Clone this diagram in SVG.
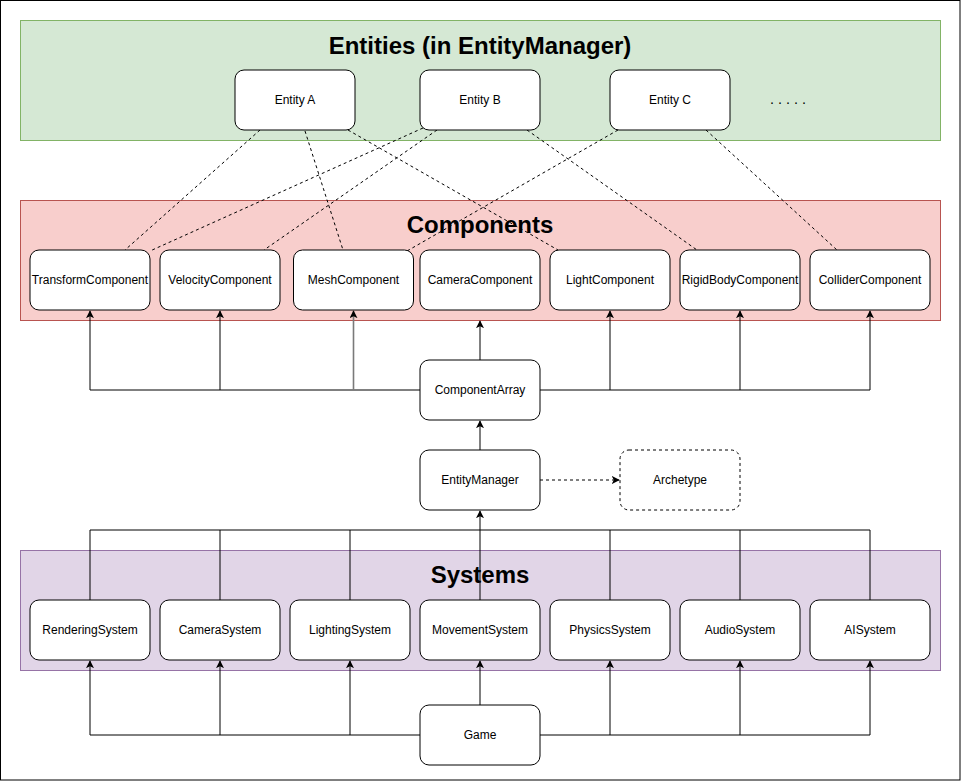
<svg xmlns="http://www.w3.org/2000/svg" width="961" height="781" viewBox="0 0 961 781">
<defs>
<marker id="arr" viewBox="0 0 10 10" refX="9" refY="5" markerWidth="8" markerHeight="8" markerUnits="userSpaceOnUse" orient="auto">
<path d="M0,0 L10,5 L0,10 L2.5,5 Z" fill="#000"/>
</marker>
<style>
.box{fill:#fff;stroke:#000;stroke-width:1}
.dbox{fill:#fff;stroke:#000;stroke-width:1;stroke-dasharray:3 3}
.lbl{font-family:"Liberation Sans",Arial,sans-serif;font-size:12px;fill:#000;text-anchor:middle;dominant-baseline:central}
.title{font-family:"Liberation Sans",Arial,sans-serif;font-size:24px;font-weight:bold;fill:#000;text-anchor:middle;dominant-baseline:central}
.ln{fill:none;stroke:#000;stroke-width:1}
.dash{fill:none;stroke:#000;stroke-width:1;stroke-dasharray:3 3}
</style>
</defs>
<rect x="0.5" y="0.5" width="959.5" height="779.5" fill="#fff" stroke="#000" stroke-width="1"/>

<g id="entities-container">
<rect x="20.5" y="20.5" width="920" height="120" fill="#d5e8d4" stroke="#82b366"/>
<text class="title" x="480" y="45">Entities (in EntityManager)</text>
</g>
<g id="components-container">
<rect x="20.5" y="200.5" width="920" height="120" fill="#f8cecc" stroke="#b85450"/>
<text class="title" x="480" y="224">Components</text>
</g>
<g id="systems-container">
<rect x="20.5" y="550.5" width="920" height="120" fill="#e1d5e7" stroke="#9673a6"/>
<text class="title" x="480" y="574">Systems</text>
</g>

<g id="connectors">
<line class="dash" x1="260" y1="130" x2="125" y2="250"/>
<line class="dash" x1="305" y1="131" x2="343" y2="250"/>
<line class="dash" x1="348" y1="130" x2="558" y2="250"/>
<line class="dash" x1="423" y1="128" x2="150" y2="251"/>
<line class="dash" x1="437" y1="130" x2="264" y2="250"/>
<line class="dash" x1="527" y1="130" x2="697" y2="250"/>
<line class="dash" x1="618" y1="130" x2="407" y2="251"/>
<line class="dash" x1="706" y1="130" x2="837" y2="250"/>
<polyline class="ln" points="420,390 90,390 90,311" marker-end="url(#arr)"/>
<line class="ln" x1="220" y1="390" x2="220" y2="311" marker-end="url(#arr)"/>
<line x1="353.5" y1="390" x2="353.5" y2="311" stroke="#7a7a7a" stroke-width="1.6" marker-end="url(#arr)"/>
<line class="ln" x1="480" y1="360" x2="480" y2="321" marker-end="url(#arr)"/>
<polyline class="ln" points="540,390 870,390 870,311" marker-end="url(#arr)"/>
<line class="ln" x1="610" y1="390" x2="610" y2="311" marker-end="url(#arr)"/>
<line class="ln" x1="740" y1="390" x2="740" y2="311" marker-end="url(#arr)"/>
<line class="ln" x1="480" y1="450" x2="480" y2="421" marker-end="url(#arr)"/>
<line class="dash" x1="540" y1="480" x2="619" y2="480" marker-end="url(#arr)"/>
<polyline class="ln" points="90,600 90,530 870,530 870,600"/>
<line class="ln" x1="220" y1="530" x2="220" y2="600"/>
<line class="ln" x1="350" y1="530" x2="350" y2="600"/>
<line class="ln" x1="610" y1="530" x2="610" y2="600"/>
<line class="ln" x1="740" y1="530" x2="740" y2="600"/>
<line class="ln" x1="480" y1="600" x2="480" y2="511" marker-end="url(#arr)"/>
<polyline class="ln" points="420,735 90,735 90,661" marker-end="url(#arr)"/>
<line class="ln" x1="220" y1="735" x2="220" y2="661" marker-end="url(#arr)"/>
<line class="ln" x1="350" y1="735" x2="350" y2="661" marker-end="url(#arr)"/>
<line class="ln" x1="480" y1="705" x2="480" y2="661" marker-end="url(#arr)"/>
<polyline class="ln" points="540,735 870,735 870,661" marker-end="url(#arr)"/>
<line class="ln" x1="610" y1="735" x2="610" y2="661" marker-end="url(#arr)"/>
<line class="ln" x1="740" y1="735" x2="740" y2="661" marker-end="url(#arr)"/>
</g>

<g id="entity-a"><rect class="box" x="235" y="70" width="120" height="60" rx="9"/><text class="lbl" x="295" y="100">Entity A</text></g>
<g id="entity-b"><rect class="box" x="420" y="70" width="120" height="60" rx="9"/><text class="lbl" x="480" y="100">Entity B</text></g>
<g id="entity-c"><rect class="box" x="610" y="70" width="120" height="60" rx="9"/><text class="lbl" x="670" y="100">Entity C</text></g>
<g id="more-entities"><text x="770" y="104" font-family="Liberation Sans, Arial, sans-serif" font-size="14.4" fill="#000">. . . . .</text></g>

<g id="transform-component"><rect class="box" x="30" y="250" width="120" height="60" rx="9"/><text class="lbl" x="90" y="280">TransformComponent</text></g>
<g id="velocity-component"><rect class="box" x="160" y="250" width="120" height="60" rx="9"/><text class="lbl" x="220" y="280">VelocityComponent</text></g>
<g id="mesh-component"><rect class="box" x="293.5" y="250" width="120" height="60" rx="9"/><text class="lbl" x="353.5" y="280">MeshComponent</text></g>
<g id="camera-component"><rect class="box" x="420" y="250" width="120" height="60" rx="9"/><text class="lbl" x="480" y="280">CameraComponent</text></g>
<g id="light-component"><rect class="box" x="550" y="250" width="120" height="60" rx="9"/><text class="lbl" x="610" y="280">LightComponent</text></g>
<g id="rigidbody-component"><rect class="box" x="680" y="250" width="120" height="60" rx="9"/><text class="lbl" x="740" y="280">RigidBodyComponent</text></g>
<g id="collider-component"><rect class="box" x="810" y="250" width="120" height="60" rx="9"/><text class="lbl" x="870" y="280">ColliderComponent</text></g>

<g id="component-array"><rect class="box" x="420" y="360" width="120" height="60" rx="9"/><text class="lbl" x="480" y="390">ComponentArray</text></g>
<g id="entity-manager"><rect class="box" x="420" y="450" width="120" height="60" rx="9"/><text class="lbl" x="480" y="480">EntityManager</text></g>
<g id="archetype"><rect class="dbox" x="620" y="450" width="120" height="60" rx="9"/><text class="lbl" x="680" y="480">Archetype</text></g>

<g id="rendering-system"><rect class="box" x="30" y="600" width="120" height="60" rx="9"/><text class="lbl" x="90" y="630">RenderingSystem</text></g>
<g id="camera-system"><rect class="box" x="160" y="600" width="120" height="60" rx="9"/><text class="lbl" x="220" y="630">CameraSystem</text></g>
<g id="lighting-system"><rect class="box" x="290" y="600" width="120" height="60" rx="9"/><text class="lbl" x="350" y="630">LightingSystem</text></g>
<g id="movement-system"><rect class="box" x="420" y="600" width="120" height="60" rx="9"/><text class="lbl" x="480" y="630">MovementSystem</text></g>
<g id="physics-system"><rect class="box" x="550" y="600" width="120" height="60" rx="9"/><text class="lbl" x="610" y="630">PhysicsSystem</text></g>
<g id="audio-system"><rect class="box" x="680" y="600" width="120" height="60" rx="9"/><text class="lbl" x="740" y="630">AudioSystem</text></g>
<g id="ai-system"><rect class="box" x="810" y="600" width="120" height="60" rx="9"/><text class="lbl" x="870" y="630">AISystem</text></g>

<g id="game"><rect class="box" x="420" y="705" width="120" height="60" rx="9"/><text class="lbl" x="480" y="735">Game</text></g>
</svg>
